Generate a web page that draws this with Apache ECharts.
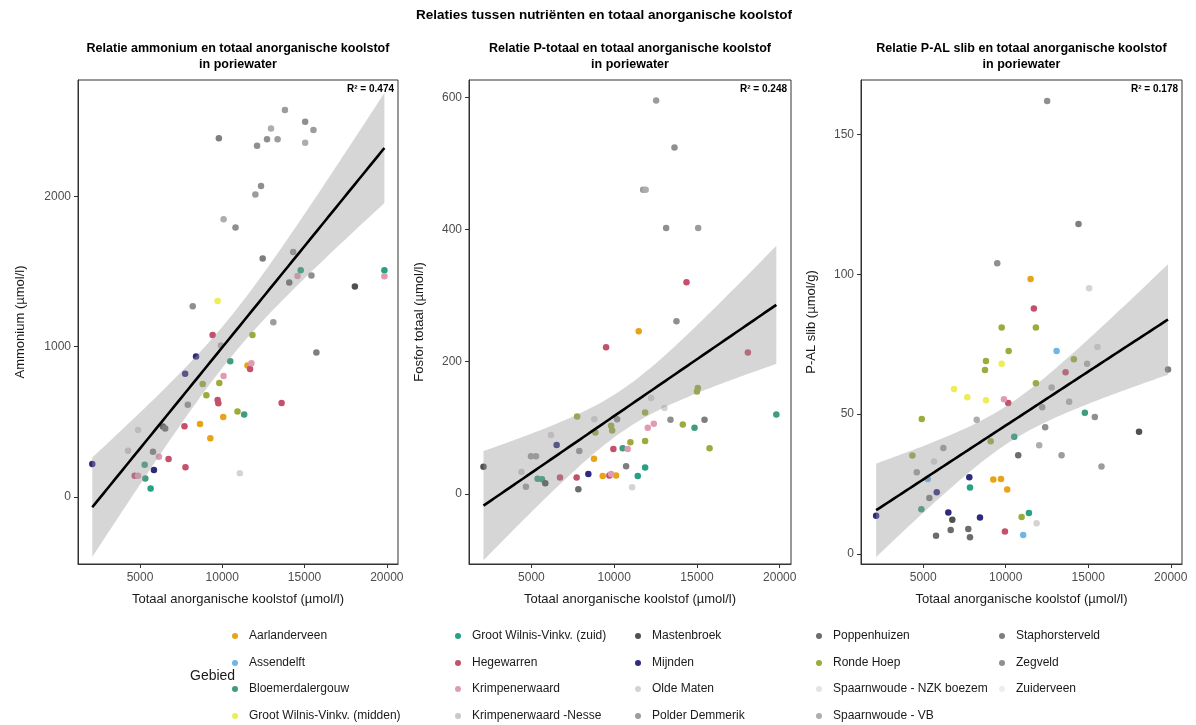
<!DOCTYPE html>
<html><head><meta charset="utf-8">
<script src="https://cdn.jsdelivr.net/npm/echarts@6/dist/echarts.min.js"></script>
<style>html,body{margin:0;padding:0;background:#fff}#c{width:1196px;height:725px}</style>
</head><body><div id="c"></div>
<script>
const gebieden = ['Aarlanderveen','Assendelft','Bloemerdalergouw','Groot Wilnis-Vinkv. (midden)','Groot Wilnis-Vinkv. (zuid)','Hegewarren','Krimpenerwaard','Krimpenerwaard -Nesse','Mastenbroek','Mijnden','Olde Maten','Polder Demmerik','Poppenhuizen','Ronde Hoep','Spaarnwoude - NZK boezem','Spaarnwoude - VB','Staphorsterveld','Zegveld','Zuiderveen'];
const kleuren = ['#E8A317','#6EB6E6','#3F9C7E','#EDED55','#27A083','#C4506C','#E19AB4','#C9C9C9','#505050','#2E2A7E','#D4D4D4','#9C9C9C','#6C6C6C','#9DAA3C','#E4E4E4','#ADADAD','#7E7E7E','#8F8F8F','#EDEDED'];

const xTicks = [5000, 10000, 15000, 20000];
const nh4Ticks = [0, 1000, 2000];
const ptotTicks = [0, 200, 400, 600];
const palTicks = [0, 50, 100, 150];

// Panel 1: ammonium vs TIC
const nh4_tic = [8204,9716,9413,11832,13102,15719,9916,8404,10483,11530,11771,11690,7741,10079,8809,9819,9031,9716,9760,7902,10925,11330,10059,13605,7702,8646,9272,6530,6390,4879,4274,5786,6149,6735,2098,5282,5846,7762,4677,4879,5322,5645,11067,13807,15037,15541,15037,12960,12718,13362,12113,9791,12355,12012,10079,10804,14310,12455,14767,14573,15420,14070,18058,19853,19853];
const nh4_val = [1267,1302,1076,1076,1162,960,1007,933,902,873,889,851,818,804,751,758,676,644,622,613,567,547,531,624,469,484,389,455,467,445,307,300,267,251,218,213,178,196,140,140,122,56,156,2573,2496,2440,2356,2451,2378,2378,2335,2385,2067,2011,1847,1791,1629,1585,1507,1469,1473,1425,1400,1507,1467];
const nh4_geb = [17,3,5,13,11,16,15,9,2,0,6,5,9,6,13,13,13,5,5,17,13,2,0,5,5,0,0,12,8,10,7,16,6,5,9,2,9,5,5,6,2,4,10,11,17,11,15,15,17,11,17,16,17,11,15,17,17,16,4,6,17,12,8,4,6];

// Panel 2: P-totaal vs TIC
const ptot_tic = [15051,15000,19794,15759,12232,13037,11869,13400,14144,14852,15456,12391,12028,11869,10980,10514,10817,9951,10720,11869,11424,11083,10115,9813,9710,9304,8439,7732,7834,6727,5838,5638,5372,4670,4400,4973,5275,2105,6522,6182,7894,7760,8802,8862,9813,9880,10175,8780,14368,13763,11482,9510,18076,12534,13642,11748,11900,13138,15072];
const ptot_val = [160,155,120,69,145,130,123,112,105,100,112,106,100,80,78,69,68,68,42,40,27,10,28,30,28,27,30,25,7,25,16,22,23,11,33,57,57,41,74,89,65,117,113,93,103,96,113,53,320,261,246,222,214,595,524,460,460,402,402];
const ptot_geb = [13,13,2,13,10,10,13,17,13,2,16,6,6,13,13,2,6,5,16,4,4,10,0,6,5,0,9,5,12,5,8,4,2,11,7,11,11,8,9,10,17,13,10,13,13,13,17,0,5,17,0,5,5,11,17,11,15,17,11];

// Panel 3: P-AL slib vs TIC
const pal_tic = [11506,15052,11706,9754,11827,10177,13081,14126,8802,9754,8742,13625,15559,14930,19831,11827,6866,7672,8802,9891,10152,12779,12211,13843,14793,15398,4912,8240,12389,18076,10515,9088,12027,6219,4343,10756,13383,15801,4609,5656,5275,7792,7834,9248,9713,10090,5820,5372,4888,2147,6521,6763,8439,10962,11404,11869,6665,7731,5777,7834,9951,11059,12510,14409,9485];
const pal_val = [98.3,95,87.8,81,81,72.6,72.6,69.6,69,68,65.8,65,74,68,66,61,59,56,55,55.3,54,59.5,52.5,54.4,50.5,49,48.3,48,45.3,43.7,41.9,40.3,38.9,37.9,35.2,35.3,35.3,31.3,29.2,33.1,26.8,27.4,23.8,26.6,26.8,23,22.1,20,16,13.7,14.8,12.2,13,13.2,14.6,11,8.6,8.9,6.5,6,8,6.8,162,118,104];
const pal_geb = [0,10,5,13,13,13,1,13,13,3,13,5,10,15,16,13,3,3,3,6,5,15,11,15,2,17,13,15,17,8,4,13,15,11,13,12,11,11,11,10,1,9,4,0,0,0,9,16,2,9,9,8,9,13,4,10,12,12,12,12,5,1,17,16,17];

const r2Labels = ['R\u00b2 = 0.474', 'R\u00b2 = 0.248', 'R\u00b2 = 0.178'];
const mainTitle = 'Relaties tussen nutriënten en totaal anorganische koolstof';
const xName = 'Totaal anorganische koolstof (µmol/l)';

const FONT = "'Liberation Sans', Arial, Helvetica, sans-serif";

const panels = [
  {tic: nh4_tic, val: nh4_val, geb: nh4_geb, yName: 'Ammonium (µmol/l)', yMin: -447, yMax: 2773, yTicks: nh4Ticks,
   title: ['Relatie ammonium en totaal anorganische koolstof', 'in poriewater'], left: 78, width: 320, nameGap: 51},
  {tic: ptot_tic, val: ptot_val, geb: ptot_geb, yName: 'Fosfor totaal (µmol/l)', yMin: -106, yMax: 626, yTicks: ptotTicks,
   title: ['Relatie P-totaal en totaal anorganische koolstof', 'in poriewater'], left: 469, width: 322, nameGap: 43},
  {tic: pal_tic, val: pal_val, geb: pal_geb, yName: 'P-AL slib (µmol/g)', yMin: -3.6, yMax: 169.5, yTicks: palTicks,
   title: ['Relatie P-AL slib en totaal anorganische koolstof', 'in poriewater'], left: 861, width: 321, nameGap: 43}
];
const TOP = 80, HEIGHT = 484;

function tq(df) {
  const z = 1.959964;
  return z + (z*z*z + z)/(4*df) + (5*Math.pow(z,5) + 16*z*z*z + 3*z)/(96*df*df);
}
function fitBand(xs, ys) {
  const n = xs.length;
  const mx = xs.reduce((a,b)=>a+b,0)/n, my = ys.reduce((a,b)=>a+b,0)/n;
  let sxx = 0, sxy = 0;
  for (let i=0;i<n;i++){ sxx += (xs[i]-mx)**2; sxy += (xs[i]-mx)*(ys[i]-my); }
  const b = sxy/sxx, a = my - b*mx;
  let sse = 0;
  for (let i=0;i<n;i++){ sse += (ys[i]-a-b*xs[i])**2; }
  const s2 = sse/(n-2), t = tq(n-2);
  const x0 = Math.min(...xs), x1 = Math.max(...xs);
  const out = [];
  for (let k=0;k<80;k++){
    const x = x0 + (x1-x0)*k/79;
    const yh = a + b*x;
    const se = Math.sqrt(s2*(1/n + (x-mx)**2/sxx));
    out.push([x, yh - t*se, yh + t*se, yh]);
  }
  return out;
}

const plain = v => String(v);
const grids = [], xAxes = [], yAxes = [], series = [], graphics = [];
panels.forEach((p, pi) => {
  grids.push({left: p.left, top: TOP, width: p.width, height: HEIGHT, show: true, borderColor: '#333', borderWidth: 1, backgroundColor: 'transparent'});
  xAxes.push({type: 'value', gridIndex: pi, min: 1230, max: 20680,
    axisLine: {show: true, onZero: false, lineStyle: {color: '#333', width: 1}},
    axisTick: {show: true, length: 4, lineStyle: {color: '#333'}, customValues: xTicks},
    axisLabel: {customValues: xTicks, formatter: plain, color: '#4D4D4D', fontSize: 12, margin: 8, fontFamily: FONT},
    splitLine: {show: false},
    name: xName, nameLocation: 'middle', nameGap: 29,
    nameTextStyle: {color: '#1A1A1A', fontSize: 13, fontFamily: FONT}});
  yAxes.push({type: 'value', gridIndex: pi, min: p.yMin, max: p.yMax,
    axisLine: {show: true, onZero: false, lineStyle: {color: '#333', width: 1}},
    axisTick: {show: true, length: 4, lineStyle: {color: '#333'}, customValues: p.yTicks},
    axisLabel: {customValues: p.yTicks, formatter: plain, color: '#4D4D4D', fontSize: 12, margin: 7, fontFamily: FONT},
    splitLine: {show: false},
    name: p.yName, nameLocation: 'middle', nameGap: p.nameGap, nameRotate: 90,
    nameTextStyle: {color: '#1A1A1A', fontSize: 13, fontFamily: FONT}});

  gebieden.forEach((g, gi) => {
    const d = [];
    p.tic.forEach((x, i) => { if (p.geb[i] === gi) d.push([x, p.val[i]]); });
    series.push({type: 'scatter', name: g, xAxisIndex: pi, yAxisIndex: pi, data: d,
      symbol: 'circle', symbolSize: 6.5, itemStyle: {color: kleuren[gi], opacity: 1}, z: 2, emphasis: {disabled: true}});
  });

  const band = fitBand(p.tic, p.val);
  const mid = band[40];
  series.push({type: 'custom', xAxisIndex: pi, yAxisIndex: pi, silent: true, z: 3,
    data: [[mid[0], mid[3]]],
    renderItem: (params, api) => {
      const up = band.map(d => api.coord([d[0], d[2]]));
      const lo = band.map(d => api.coord([d[0], d[1]])).reverse();
      return {type: 'polygon', shape: {points: up.concat(lo)}, style: {fill: 'rgba(153,153,153,0.4)'}};
    }});
  series.push({type: 'line', xAxisIndex: pi, yAxisIndex: pi, silent: true, z: 4,
    data: band.map(d => [d[0], d[3]]), showSymbol: false, symbol: 'none',
    lineStyle: {color: '#000', width: 2.6}});

  const cx = p.left + p.width/2;
  graphics.push({type: 'text', x: cx, y: 49, style: {text: p.title[0], textAlign: 'center', textVerticalAlign: 'middle', font: 'bold 12.5px ' + FONT, fill: '#000'}});
  graphics.push({type: 'text', x: cx, y: 65, style: {text: p.title[1], textAlign: 'center', textVerticalAlign: 'middle', font: 'bold 12.5px ' + FONT, fill: '#000'}});
  graphics.push({type: 'text', x: p.left + p.width - 4, y: 89, style: {text: r2Labels[pi], textAlign: 'right', textVerticalAlign: 'middle', font: 'bold 10px ' + FONT, fill: '#000'}});
});

graphics.push({type: 'text', x: 604, y: 15, style: {text: mainTitle, textAlign: 'center', textVerticalAlign: 'middle', font: 'bold 13.5px ' + FONT, fill: '#000'}});
graphics.push({type: 'text', x: 190, y: 676, style: {text: 'Gebied', textAlign: 'left', textVerticalAlign: 'middle', font: '14px ' + FONT, fill: '#1A1A1A'}});

// legend laid out column by column (ggplot style), one item per legend component
const legendCols = [[0,1,2,3],[4,5,6,7],[8,9,10,11],[12,13,14,15],[16,17,18]];
const legendLeft = [232, 455, 635, 816, 999];
const legendRowTop = [629, 656, 682, 709];
const legends = [];
legendCols.forEach((col, ci) => col.forEach((gi, ri) => legends.push({
  orient: 'vertical', left: legendLeft[ci], top: legendRowTop[ri], padding: 0,
  itemWidth: 18, itemHeight: 6, icon: 'circle', selectedMode: true,
  data: [gebieden[gi]],
  textStyle: {color: '#1A1A1A', fontSize: 12, fontFamily: FONT, lineHeight: 14}
})));

const chart = echarts.init(document.getElementById('c'), null, {renderer: 'canvas'});
chart.setOption({
  animation: false,
  backgroundColor: '#fff',
  grid: grids, xAxis: xAxes, yAxis: yAxes, series: series,
  legend: legends, graphic: graphics
});
</script></body></html>
